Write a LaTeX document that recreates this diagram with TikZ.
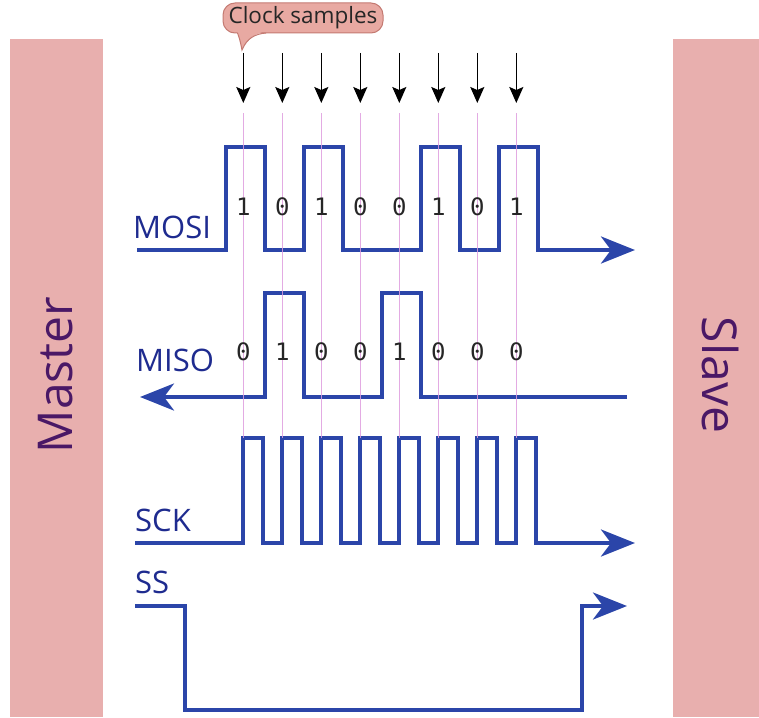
\documentclass[tikz,border=0pt]{standalone}
\usepackage{fontspec}
\setmainfont{Open Sans}
\newfontfamily\bitfont{DejaVu Sans Mono}
\usetikzlibrary{arrows.meta, positioning}
\definecolor{barpink}{HTML}{E8AFAE}
\definecolor{bubpink}{HTML}{E8A9A2}
\definecolor{bubedge}{HTML}{C47A72}
\definecolor{sigblue}{HTML}{2B45A9}
\definecolor{lblblue}{HTML}{1E2B8F}
\definecolor{dkpurple}{HTML}{4A1866}
\definecolor{tickpink}{HTML}{DE9CDE}
\definecolor{dkgray}{HTML}{262626}

\begin{document}
\begin{tikzpicture}[x=1pt, y=-1pt, >={Stealth[length=34pt, width=27pt, inset=10pt]},
  signal/.style={sigblue, line width=4pt, ->},
  sample/.style={black, line width=1.4pt, -{Stealth[length=16pt, width=14pt, inset=3pt]}},
  tick/.style={tickpink, line width=1.2pt, opacity=0.85},
  siglabel/.style={anchor=west, inner sep=0pt, text=lblblue, font=\fontsize{31}{36}\selectfont},
  bitlabel/.style={inner sep=0pt, text=dkgray, font=\bitfont\fontsize{24}{28}\selectfont},
  sidelabel/.style={inner sep=0pt, text=dkpurple, font=\fontsize{48}{56}\selectfont}]

\useasboundingbox (0,0) rectangle (759,717);

% Master and slave bars
\fill[barpink] (10,39) rectangle (103,717);
\fill[barpink] (673,39) rectangle (759,717);
\node[sidelabel, rotate=90] (master) at (56,375) {Master};
\node[sidelabel, rotate=-90] (slave) at (720,375) {Slave};

% Clock samples bubble
\node[draw=bubedge, fill=bubpink, line width=1pt, rounded corners=12pt,
      minimum width=160pt, minimum height=30pt, inner sep=0pt, text=dkgray,
      font=\fontsize{22.5}{26}\selectfont] (clk) at (303,18) {Clock samples};
\fill[bubpink] (237,30) .. controls (240,40) .. (242,50) .. controls (247,38) and (255,34) .. (268,30) -- cycle;
\draw[bubedge, line width=1pt] (237.5,33) .. controls (240,40) .. (242,50) .. controls (247,38) and (255,34) .. (266,33);

% Sample arrows
\draw[sample] (243.3,53) -- (243.3,103);
\draw[sample] (282.3,53) -- (282.3,103);
\draw[sample] (321.3,53) -- (321.3,103);
\draw[sample] (360.3,53) -- (360.3,103);
\draw[sample] (399.3,53) -- (399.3,103);
\draw[sample] (438.3,53) -- (438.3,103);
\draw[sample] (477.3,53) -- (477.3,103);
\draw[sample] (516.3,53) -- (516.3,103);

% MOSI
\draw[signal] (137,250) -| (226.3,147) -| (265.3,250) -| (304.3,147) -| (343.3,250)
  -| (421.3,147) -| (460.3,250) -| (499.3,147) -| (538.3,250) -- (635,250);
\node[siglabel] (mosi) at (133,227) {MOSI};

% MISO
\draw[signal] (627,397) -| (421.3,293) -| (382.3,397) -| (304.3,293) -| (265.3,397) -- (140,397);
\node[siglabel] (miso) at (136,360) {MISO};

% SCK
\draw[signal] (135,543) -| (243.3,438) -| (262.8,543) -| (282.3,438) -| (301.8,543)
  -| (321.3,438) -| (340.8,543) -| (360.3,438) -| (379.8,543) -| (399.3,438) -| (418.8,543)
  -| (438.3,438) -| (457.8,543) -| (477.3,438) -| (496.8,543) -| (516.3,438) -| (535.8,543)
  -- (635,543);
\node[siglabel] (sck) at (135,520) {SCK};

% SS
\draw[signal] (135,606) -| (185,710) -| (582.3,606) -- (627,606);
\node[siglabel] (ss) at (135,582) {SS};

% Sample lines
\draw[tick] (243.3,113) -- (243.3,438);
\draw[tick] (282.3,113) -- (282.3,438);
\draw[tick] (321.3,113) -- (321.3,438);
\draw[tick] (360.3,113) -- (360.3,438);
\draw[tick] (399.3,113) -- (399.3,438);
\draw[tick] (438.3,113) -- (438.3,438);
\draw[tick] (477.3,113) -- (477.3,438);
\draw[tick] (516.3,113) -- (516.3,438);

% MOSI bits
\node[bitlabel] (mosi1) at (243.3,207) {1};
\node[bitlabel] (mosi2) at (282.3,207) {0};
\node[bitlabel] (mosi3) at (321.3,207) {1};
\node[bitlabel] (mosi4) at (360.3,207) {0};
\node[bitlabel] (mosi5) at (399.3,207) {0};
\node[bitlabel] (mosi6) at (438.3,207) {1};
\node[bitlabel] (mosi7) at (477.3,207) {0};
\node[bitlabel] (mosi8) at (516.3,207) {1};

% MISO bits
\node[bitlabel] (miso1) at (243.3,352) {0};
\node[bitlabel] (miso2) at (282.3,352) {1};
\node[bitlabel] (miso3) at (321.3,352) {0};
\node[bitlabel] (miso4) at (360.3,352) {0};
\node[bitlabel] (miso5) at (399.3,352) {1};
\node[bitlabel] (miso6) at (438.3,352) {0};
\node[bitlabel] (miso7) at (477.3,352) {0};
\node[bitlabel] (miso8) at (516.3,352) {0};

\end{tikzpicture}
\end{document}
